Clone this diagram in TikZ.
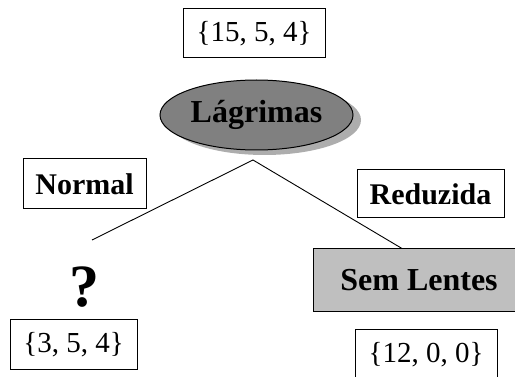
\documentclass[tikz,border=0pt]{standalone}
\usepackage{fontspec}
\setmainfont{Liberation Serif}
\usetikzlibrary{shapes,shadows,positioning}

\begin{document}
\begin{tikzpicture}[x=1pt,y=-1pt,
        valbox/.style={draw,line width=1pt,rectangle,inner sep=0pt,font=\fontsize{29}{34}\selectfont},
        labbox/.style={draw,line width=1pt,rectangle,inner sep=0pt,font=\fontsize{30}{36}\selectfont\bfseries},
        attr/.style={draw,line width=1pt,ellipse,fill=black!50,inner sep=0pt,
                minimum width=193pt,minimum height=70pt,font=\fontsize{32}{38}\selectfont\bfseries,
                drop shadow={shadow xshift=8pt,shadow yshift=-5pt,fill=black!32,opacity=1}},
        leaf/.style={draw,line width=1pt,rectangle,fill=black!25,inner sep=0pt,
                minimum width=212pt,minimum height=63pt,font=\fontsize{32}{38}\selectfont\bfseries},
        branch/.style={line width=0.9pt}]
        \useasboundingbox (0,0) rectangle (515,377);
        \clip (0,0) rectangle (515,377);

        \node[valbox,minimum width=142pt,minimum height=49pt] (root) at (254,33.5) {\{15, 5, 4\}};
        \node[attr] (lagr) at (256.5,115) {Lágrimas};

        \coordinate (split) at (253,160);
        \coordinate (qend) at (92,240);

        \node[labbox,minimum width=123pt,minimum height=50pt] (normal) at (84.5,184) {Normal};
        \node[labbox,minimum width=147pt,minimum height=48pt] (reduz) at (430.5,194) {Reduzida};

        \node[font=\fontsize{60}{70}\selectfont\bfseries,inner sep=0pt] (quest) at (84,287) {?};
        \node[valbox,minimum width=127pt,minimum height=50pt] (left) at (73.5,345) {\{3, 5, 4\}};

        \node[leaf] (sem) at (419,280.5) {Sem Lentes};
        \node[valbox,minimum width=142pt,minimum height=50pt] (right) at (426,355) {\{12, 0, 0\}};

        \draw[branch] (qend) -- (split) -- ([xshift=-17pt]sem.north);
\end{tikzpicture}
\end{document}
